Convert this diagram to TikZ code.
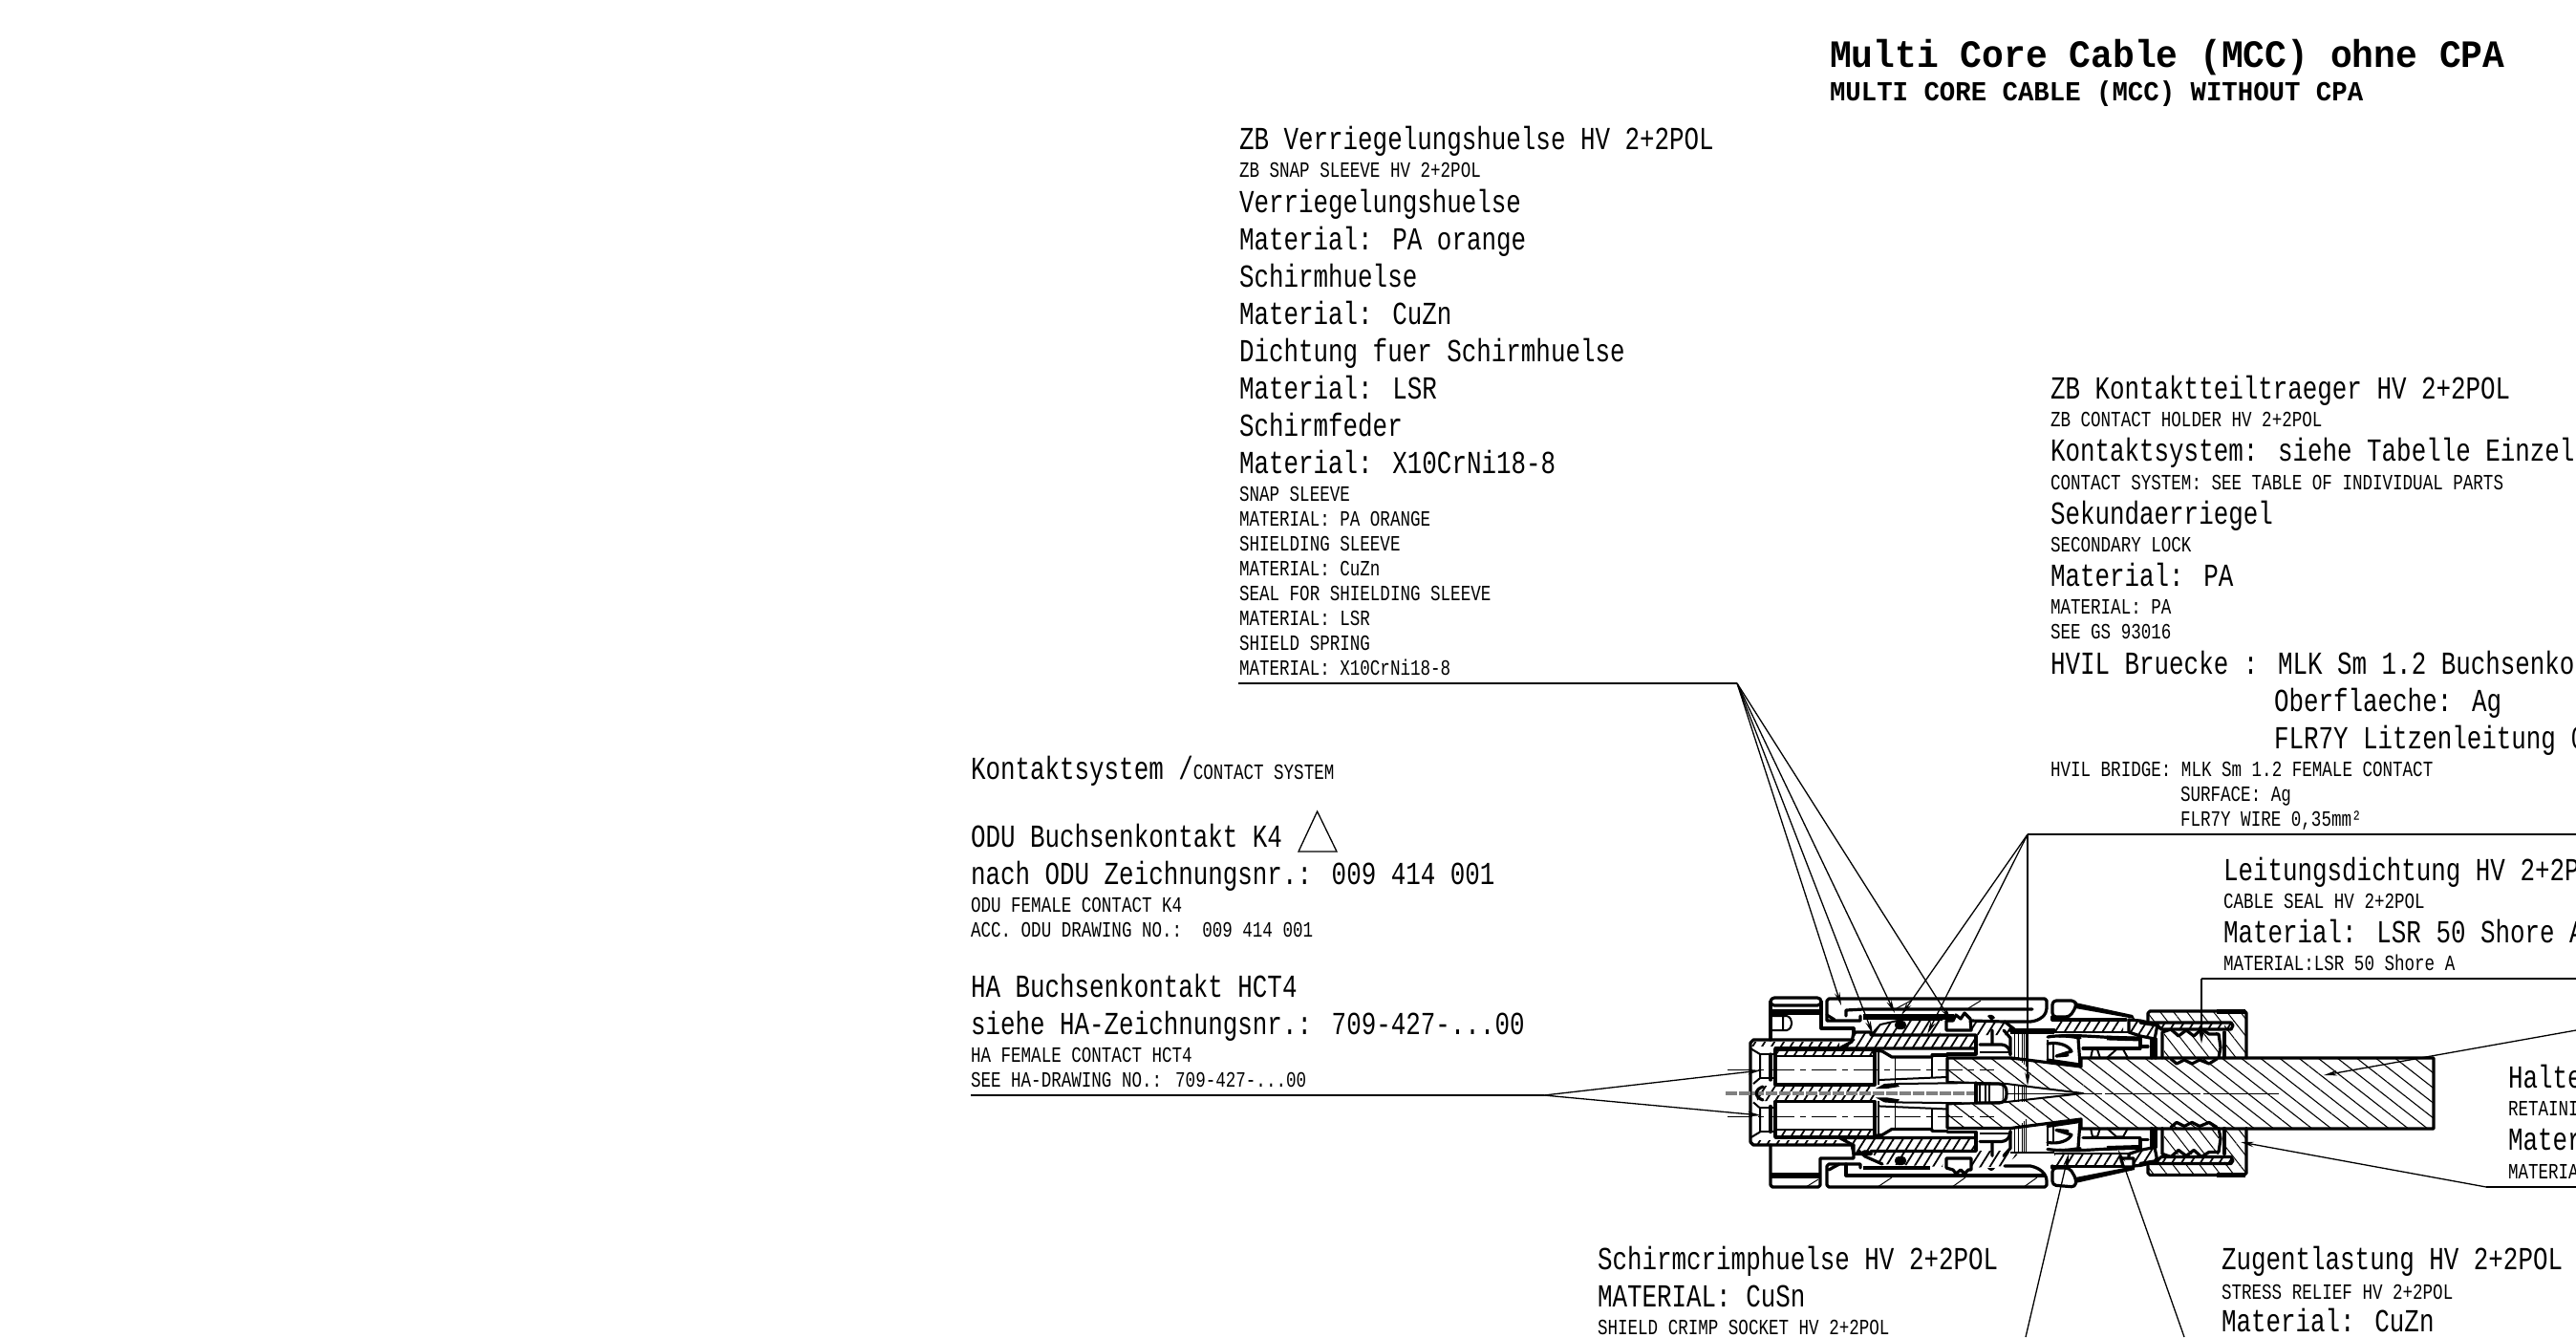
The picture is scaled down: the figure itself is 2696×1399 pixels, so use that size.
\documentclass[tikz,border=0pt]{standalone}
\usepackage{fontspec}
\usetikzlibrary{arrows.meta,patterns.meta}
\newfontfamily\lgf[FakeStretch=0.77]{Liberation Mono}[Scale=1]
\newfontfamily\ttlA[FakeStretch=0.94]{Liberation Mono Bold}
\newfontfamily\ttlB[FakeStretch=0.95]{Liberation Mono Bold}
\newcommand\fL{\lgf\fontsize{16.8pt}{18pt}\selectfont}
\newcommand\fS{\lgf\fontsize{11.4pt}{13pt}\selectfont}
\newcommand\fTa{\ttlA\fontsize{20.2pt}{22pt}\selectfont}
\newcommand\fTb{\ttlB\fontsize{14.4pt}{16pt}\selectfont}
\tikzset{
 lbl/.style={anchor=base west,inner sep=0pt,outer sep=0pt},
 big/.style={lbl,font=\fL},
 sml/.style={lbl,font=\fS},
 ldr/.style={line width=.65pt},
 ldra/.style={ldr,-{Stealth[length=7pt,width=2.8pt]}},
 thk/.style={line width=1.6pt,line join=round,line cap=round},
 med/.style={line width=1pt,line join=round},
 thn/.style={line width=.5pt},
 hs/.style={pattern={Lines[angle=58,distance=4.2pt,line width=.9pt]}},
 hd/.style={pattern={Lines[angle=58,distance=5.5pt,line width=1.4pt]}},
 hc/.style={pattern={Lines[angle=-38,distance=6.2pt,line width=.55pt]}},
 hn/.style={pattern={Lines[angle=-52,distance=5.5pt,line width=.5pt]}},
}
\newcommand\innerhalf{%
 % contact chamber
 \fill[hs] (1858,1098) rectangle (1962,1105);
 \fill[hs] (1858,1135) rectangle (1962,1141);
 \draw[thk] (1858,1098) rectangle (1962,1135);
 \draw[med] (1858,1105)--(1962,1105);
 \draw[med] (1966,1100)--(1966,1135);
 % nose
 \draw[med] (1832,1097)--(1842,1103)--(1842,1128)--(1835,1134);
 \draw[thk] (1853,1103)--(1853,1130);
 \draw[med] (1842,1103)--(1858,1103) (1842,1128)--(1858,1128);
 % contact rear
 \draw[thk] (1962,1099)--(1970,1100)--(1980,1106)--(2022,1106);
 \draw[med] (2022,1106)--(2022,1128);
 \draw[thk] (2022,1104)--(2038,1104);
 \draw[med] (1966,1130)--(2037,1127);
 \draw[thn] (1983,1107)--(1983,1133);
 \fill (1963,1139)--(1972,1134)--(1985,1133)--(1988,1137)--(1975,1139)--cycle;
 \draw[med] (1985,1134)--(2067,1133);
 % housing band
 \fill[hs] (1832,1090) rectangle (1925,1094);
 \draw[thk] (1858,1097)--(1925,1097);
 \draw[thk,hs] (1925,1097)--(1938,1090)--(1940,1080)--(1958,1080)--(1958,1083)--(2068,1083)--(2068,1097)--cycle;
 % secondary arm and latch region
 \draw[thk] (2068,1084)--(2068,1103)--(2038,1103);
 \draw[thk] (2072,1093)--(2095,1093) .. controls (2102,1094) and (2103,1098) .. (2104,1103);
 \draw[med] (2072,1101)--(2104,1101);
 \draw[thk] (2085,1078)--(2085,1092) (2097,1078)--(2104,1086)--(2104,1104);
 \draw[thn] (2108,1081)--(2108,1108) (2112,1081)--(2112,1108) (2116,1081)--(2116,1112) (2118,1081)--(2118,1114) (2120,1081)--(2120,1116);
 \draw[med] (2104,1081)--(2150,1081);
 % latch
 \draw[med] (2143,1088)--(2143,1110) (2149,1092)--(2149,1112);
 \draw[thk] (2143,1092) .. controls (2155,1090) and (2165,1094) .. (2168,1100)--(2152,1105)--(2164,1104);
 \draw[thk] (2175,1087)--(2177,1114);
 \draw[thk] (2143,1085) .. controls (2155,1083) and (2165,1084) .. (2177,1086);
 \draw[thk] (2143,1109)--(2177,1114);
 % rear body
 \draw[thk] (2148,1067)--(2225,1067);
 \fill[hs] (2150,1068) rectangle (2222,1080);
 \draw[med] (2150,1080)--(2228,1080);
 \draw[thk,hs] (2228,1067)--(2240,1068)--(2258,1072)--(2255,1087)--(2240,1084)--(2228,1080)--cycle;
 \draw[thk] (2155,1084) .. controls (2175,1082) and (2210,1087) .. (2240,1086);
 \draw[line width=2.4pt] (2205,1086)--(2238,1087);
 \draw[thk] (2240,1086)--(2240,1095)--(2248,1095) (2180,1097)--(2240,1097);
 \draw[med] (2188,1107)--(2190,1098)--(2195,1098)--(2198,1107) (2205,1107)--(2215,1098)--(2222,1098)--(2227,1107);
 % nut
 \fill[hn] (2248,1058) rectangle (2351,1068);
 \fill[hn] (2328,1068) rectangle (2351,1107);
 \draw[thk] (2248,1068)--(2248,1060)--(2250,1058)--(2349,1058)--(2351,1060)--(2351,1107);
 \draw[line width=2.5pt] (2320,1058)--(2350,1058);
 \draw[thk] (2252,1087)--(2252,1107) (2256,1087)--(2256,1107);
 \draw[thk] (2328,1080)--(2328,1107);
 % stress relief
 \draw[thk,hs] (2240,1070)--(2335,1070)--(2337,1073)--(2335,1077)--(2262,1077)--(2258,1073)--cycle;
 % seal
 \fill[hn] (2265,1080) rectangle (2322,1107);
 \draw[thk] (2263,1107)--(2263,1080)--(2272,1077)--(2280,1084)--(2288,1078)--(2296,1084)--(2304,1077)--(2312,1082)--(2322,1082)--(2324,1096)--(2322,1107);
 \draw[thk] (2272,1108)--(2278,1113)--(2286,1109)--(2294,1113)--(2302,1109)--(2312,1113)--(2320,1108);
}
\begin{document}
\begin{tikzpicture}[x=0.5pt,y=-0.5pt]
\path[use as bounding box] (0,0) rectangle (2696,1399);
\clip (0,0) rectangle (2696,1399);
% ---------- title
\node[lbl,font=\fTa] (title) at (1915,70.7) {Multi Core Cable (MCC) ohne CPA};
\node[lbl,font=\fTb] (titleb) at (1915,105.7) {MULTI CORE CABLE (MCC) WITHOUT CPA};
% ---------- block 1
\node[big] (a1) at (1297,156) {ZB Verriegelungshuelse HV 2+2POL};
\node[sml] (a2) at (1297,185) {ZB SNAP SLEEVE HV 2+2POL};
\node[big] (a3) at (1297,222) {Verriegelungshuelse};
\node[big] (a4) at (1297,261) {Material: PA orange};
\node[big] (a5) at (1297,300) {Schirmhuelse};
\node[big] (a6) at (1297,339) {Material: CuZn};
\node[big] (a7) at (1297,378) {Dichtung fuer Schirmhuelse};
\node[big] (a8) at (1297,417) {Material: LSR};
\node[big] (a9) at (1297,456) {Schirmfeder};
\node[big] (a10) at (1297,495) {Material: X10CrNi18-8};
\node[sml] (a11) at (1297,524) {SNAP SLEEVE};
\node[sml] (a12) at (1297,550) {MATERIAL: PA ORANGE};
\node[sml] (a13) at (1297,576) {SHIELDING SLEEVE};
\node[sml] (a14) at (1297,602) {MATERIAL: CuZn};
\node[sml] (a15) at (1297,628) {SEAL FOR SHIELDING SLEEVE};
\node[sml] (a16) at (1297,654) {MATERIAL: LSR};
\node[sml] (a17) at (1297,680) {SHIELD SPRING};
\node[sml] (a18) at (1297,706) {MATERIAL: X10CrNi18-8};
% ---------- block 2
\node[big] (b1) at (2146,417) {ZB Kontaktteiltraeger HV 2+2POL};
\node[sml] (b2) at (2146,446) {ZB CONTACT HOLDER HV 2+2POL};
\node[big] (b3) at (2146,482) {Kontaktsystem: siehe Tabelle Einzelt};
\node[sml] (b4) at (2146,512) {CONTACT SYSTEM: SEE TABLE OF INDIVIDUAL PARTS};
\node[big] (b5) at (2146,548) {Sekundaerriegel};
\node[sml] (b6) at (2146,577) {SECONDARY LOCK};
\node[big] (b7) at (2146,613) {Material: PA};
\node[sml] (b8) at (2146,642) {MATERIAL: PA};
\node[sml] (b9) at (2146,668) {SEE GS 93016};
\node[big] (b10) at (2146,705) {HVIL Bruecke : MLK Sm 1.2 Buchsenkon};
\node[big] (b11) at (2380,744) {Oberflaeche: Ag};
\node[big] (b12) at (2380,783) {FLR7Y Litzenleitung 0};
\node[sml] (b13) at (2146,812) {HVIL BRIDGE: MLK Sm 1.2 FEMALE CONTACT};
\node[sml] (b14) at (2282,838) {SURFACE: Ag};
\node[sml] (b15) at (2282,864) {FLR7Y WIRE 0,35mm²};
% ---------- block 3
\node[lbl] (c1) at (1016,815) {{\fL Kontaktsystem /}{\fS CONTACT SYSTEM}};
\node[big] (c2) at (1016,886) {ODU Buchsenkontakt K4};
\coordinate (triA) at (1378.6,849);
\coordinate (triB) at (1359,891);
\coordinate (triC) at (1399,891);
\draw[ldr] (triA)--(triB)--(triC)--cycle;
\node[big] (c3) at (1016,925) {nach ODU Zeichnungsnr.: 009 414 001};
\node[sml] (c4) at (1016,954) {ODU FEMALE CONTACT K4};
\node[sml] (c5) at (1016,980) {ACC. ODU DRAWING NO.:\ \ 009 414 001};
\node[big] (c6) at (1016,1043) {HA Buchsenkontakt HCT4};
\node[big] (c7) at (1016,1082) {siehe HA-Zeichnungsnr.: 709-427-...00};
\node[sml] (c8) at (1016,1111) {HA FEMALE CONTACT HCT4};
\node[sml] (c9) at (1016,1137) {SEE HA-DRAWING NO.: 709-427-...00};
% ---------- right blocks
\node[big] (d1) at (2327,921) {Leitungsdichtung HV 2+2P};
\node[sml] (d2) at (2327,950) {CABLE SEAL HV 2+2POL};
\node[big] (d3) at (2327,986) {Material: LSR 50 Shore A};
\node[sml] (d4) at (2327,1015) {MATERIAL:LSR 50 Shore A};
\node[big] (e1) at (2625,1138) {Halte};
\node[sml] (e2) at (2625,1167) {RETAINI};
\node[big] (e3) at (2625,1203) {Mater};
\node[sml] (e4) at (2625,1233) {MATERIA};
% ---------- bottom blocks
\node[big] (f1) at (1672,1328) {Schirmcrimphuelse HV 2+2POL};
\node[big] (f2) at (1672,1367) {MATERIAL: CuSn};
\node[sml] (f3) at (1672,1396) {SHIELD CRIMP SOCKET HV 2+2POL};
\node[big] (g1) at (2325,1328) {Zugentlastung HV 2+2POL};
\node[sml] (g2) at (2325,1359) {STRESS RELIEF HV 2+2POL};
\node[big] (g3) at (2325,1393) {Material: CuZn};
% ---------- drawing: cable
\draw[hc] (2038,1107)--(2105,1107)--(2178,1116)--(2178,1107)--(2547,1107)--(2547,1181)--(2178,1181)--(2178,1171)--(2105,1180.4)--(2038,1180.4)--(2038,1155.4)--(2100,1153)--(2180,1144)--(2100,1134)--(2038,1132)--cycle;
\draw[thk] (2038,1132)--(2038,1107)--(2105,1107)--(2178,1116)--(2178,1107)--(2547,1107)--(2547,1181)--(2178,1181)--(2178,1171)--(2105,1180.4)--(2038,1180.4)--(2038,1155.4);
\draw[med] (2038,1132)--(2100,1134)--(2180,1144)--(2100,1153)--(2038,1155.4);
\draw[thn,dash pattern=on 50pt off 1.5pt] (2100,1144)--(2385,1144);
% centre lines
\draw[thn,dash pattern=on 13pt off 3pt on 3pt off 3pt] (1808,1119)--(2087,1119);
\draw[thn,dash pattern=on 13pt off 3pt on 3pt off 3pt] (1808,1168)--(2087,1168);
% housing
\draw[thk] (1940,1088)--(1835,1088)--(1832,1091)--(1832,1195)--(1835,1198)--(1940,1198);
\innerhalf
\begin{scope}[shift={(0,2287.4)},yscale=-1]
\innerhalf
\end{scope}
% centre strip
\fill[hs] (1840,1136) -- (1835,1144) -- (1840,1152) -- (1858,1152) -- (1858,1136) -- cycle;
\draw[line width=1.6pt,gray,dash pattern=on 6pt off 1pt] (1806,1144)--(2067,1144);
\draw[thk] (1845,1137) .. controls (1836,1140) and (1836,1148) .. (1845,1151);
% crimp tip
\draw[thk] (2068,1133)--(2068,1154);
\draw[thk] (2068,1134)--(2092,1134) .. controls (2099,1135) and (2100,1138) .. (2100,1144) .. controls (2100,1150) and (2099,1153) .. (2092,1154)--(2068,1154);
\draw[med] (2072,1134)--(2072,1154) (2078,1134)--(2078,1154) (2082,1134)--(2082,1154);
\draw[thn] (2096,1136) .. controls (2096.5,1140) and (2096.5,1148) .. (2096,1152);
\draw[thn] (2108,1134)--(2108,1153) (2112,1136)--(2112,1153) (2116,1136)--(2116,1153) (2118,1136)--(2118,1153) (2120,1136)--(2120,1153);
% ---------- flange top
\draw[thk,rounded corners=2pt] (1853,1044) rectangle (1906,1052);
\fill (1853,1056) rectangle (1906,1062);
\draw[thk] (1853,1048)--(1853,1088) (1906,1048)--(1906,1076)--(1940,1076)--(1940,1080);
\draw[med] (1855,1063)--(1870,1063) .. controls (1877,1065) and (1877,1076) .. (1870,1078)--(1855,1078) (1866,1063)--(1866,1078);
% sleeve top
\draw[thk] (1947,1063)--(1947,1068)--(1912,1068)--(1912,1047)--(1914,1045)--(2140,1045)--(2142,1047)--(2142,1055) .. controls (2142,1062) and (2135,1068) .. (2125,1069)--(2098,1069);
\draw[thk] (1912,1062)--(1920,1067);
\draw[thk] (1932,1063)--(1932,1057)--(1950,1056)--(2127,1056);
\draw[thn] (2060,1055)--(2073,1047) (1985,1055)--(2000,1047);
\draw[line width=2.3pt] (1950,1063)--(2045,1063);
\draw[med] (1950,1066)--(2045,1066);
% shield sleeve hatch top
\fill[hs] (1958,1083)--(1968,1072)--(1990,1067)--(2033,1067)--(2030,1083)--cycle;
\draw[med] (1958,1083)--(1968,1072)--(1990,1067)--(2033,1067);
\fill[rounded corners=2pt] (1983,1068) rectangle (1995,1077);
\draw[thk,fill=white] (2037,1078)--(2037,1068)--(2044,1068)--(2047,1062)--(2052,1066)--(2056,1060)--(2062,1066)--(2063,1078)--cycle;
\fill[hs] (2063,1083)--(2063,1068)--(2098,1069)--(2112,1080)--(2100,1083)--cycle;
\draw[thk] (2063,1068)--(2098,1069)--(2112,1080);
\fill (2080,1063) .. controls (2082,1061) and (2086,1061) .. (2088,1065)--(2084,1068)--cycle;
% rear rounded ring top
\draw[thk,rounded corners=2pt] (2148,1047)--(2172,1047)--(2173,1053)--(2166,1064)--(2148,1064)--cycle;
\draw[thk] (2148,1064)--(2148,1067);
\fill (2172,1049)--(2232,1062)--(2234,1066)--(2172,1055)--cycle;
\draw[thk] (2150,1078)--(2104,1078);
% ---------- flange bottom
\draw[thk] (1853,1198)--(1853,1240)--(1855,1242)--(1903,1242)--(1905,1240)--(1905,1212)--(1940,1212)--(1940,1198);
\fill (1853,1227) rectangle (1905,1233);
\draw[thn] (1890,1242)--(1903,1234);
% sleeve bottom
\draw[thk] (1947,1222)--(1947,1218)--(1914,1218)--(1912,1220)--(1912,1240)--(1914,1242)--(2140,1242)--(2142,1240)--(2142,1236) .. controls (2142,1228) and (2135,1222) .. (2125,1220)--(2098,1220);
\draw[thk] (1932,1218)--(1932,1230)--(2140,1230);
\draw[thk] (1914,1224)--(1925,1218);
\draw[thn] (1965,1242)--(1980,1232) (2043,1242)--(2057,1232) (2118,1242)--(2132,1232);
\draw[line width=2pt] (1950,1222)--(2020,1222);
\fill[hs] (1958,1204)--(1968,1218)--(2033,1221)--(2035,1204)--cycle;
\draw[thk] (1945,1204)--(1952,1210)--(1970,1218);
\fill[rounded corners=2pt] (1983,1210) rectangle (1995,1219);
\fill (1948,1205) .. controls (1952,1201) and (1958,1204) .. (1960,1208)--(1950,1209)--cycle;
\draw[thk,fill=white] (2037,1212)--(2037,1222)--(2044,1224)--(2047,1228)--(2052,1224)--(2056,1228)--(2060,1224)--(2063,1224)--(2063,1212)--cycle;
\fill[hs] (2063,1204)--(2063,1222)--(2098,1220)--(2112,1208)--(2100,1204)--cycle;
\fill (2080,1222) .. controls (2082,1226) and (2086,1226) .. (2088,1222)--cycle;
% rear ring bottom
\draw[thk,rounded corners=2pt,fill=white] (2148,1222)--(2148,1240)--(2172,1242)--(2173,1234)--(2166,1222)--cycle;
\fill (2172,1232)--(2234,1220)--(2234,1224)--(2172,1238)--cycle;
\draw[thk] (2148,1220)--(2148,1222);
\draw[thk,fill=white] (2220,1212)--(2233,1212)--(2233,1221)--(2222,1221)--cycle;
% ---------- leaders
\coordinate (n1) at (1296,715);
\coordinate (n1e) at (1818,715);
\coordinate (t1) at (1927,1052);
\coordinate (t2) at (1960,1082);
\coordinate (t3) at (1983,1060);
\coordinate (t4) at (2042,1068);
\draw[ldr] (n1)--(n1e);
\foreach \t in {t1,t2,t3,t4} \draw[ldra] (n1e)--(\t);
\coordinate (n2) at (2696,873);
\coordinate (n2e) at (2122,873);
\coordinate (u1) at (2122,1136);
\coordinate (u2) at (1990,1062);
\coordinate (u3) at (2017,1082);
\draw[ldr] (n2)--(n2e);
\foreach \t in {u1,u2,u3} \draw[ldra] (n2e)--(\t);
\coordinate (n3) at (1016,1146);
\coordinate (n3e) at (1616,1146);
\coordinate (v1) at (1843,1120);
\coordinate (v2) at (1843,1167);
\draw[ldr] (n3)--(n3e);
\draw[ldra] (n3e)--(v1);
\draw[ldra] (n3e)--(v2);
\coordinate (n4) at (2696,1024);
\coordinate (n4e) at (2304,1024);
\coordinate (w1) at (2304,1092);
\draw[ldr] (n4)--(n4e);
\draw[ldra] (n4e)--(w1);
\coordinate (n5) at (2696,1078);
\coordinate (x1) at (2432,1125);
\draw[ldra] (n5)--(x1);
\coordinate (n6) at (2696,1242);
\coordinate (n6e) at (2602,1242);
\coordinate (x2) at (2345,1195);
\draw[ldr] (n6)--(n6e);
\draw[ldra] (n6e)--(x2);
\coordinate (n7) at (2120,1399);
\coordinate (y1) at (2165,1207);
\draw[ldra] (n7)--(y1);
\coordinate (n8) at (2286,1399);
\coordinate (y2) at (2217,1203);
\draw[ldra] (n8)--(y2);
\end{tikzpicture}
\end{document}
